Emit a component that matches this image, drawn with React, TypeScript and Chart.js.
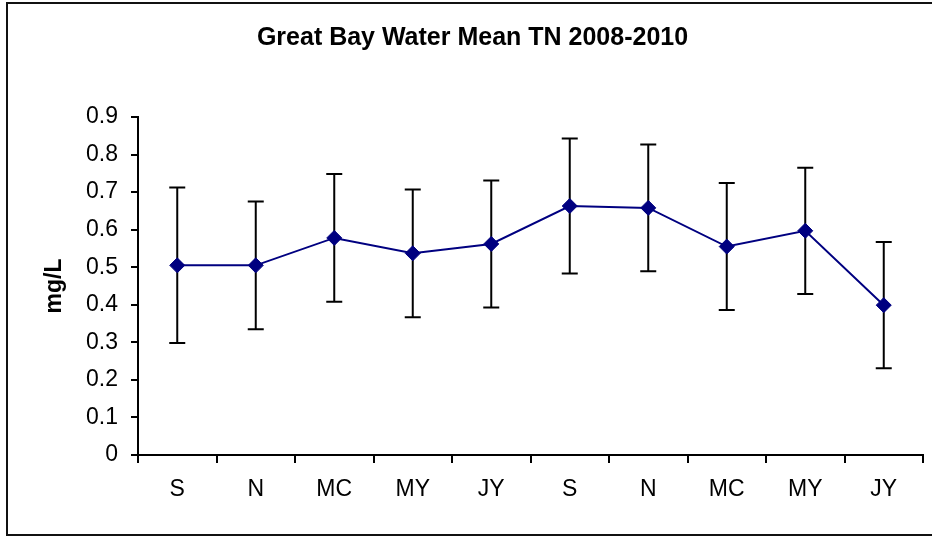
import React, { useEffect, useRef } from "react";
import { Chart, registerables } from "chart.js";

Chart.register(...registerables);

const categories = ["S", "N", "MC", "MY", "JY", "S", "N", "MC", "MY", "JY"];
const meanTN = [0.505, 0.505, 0.578, 0.537, 0.562, 0.663, 0.658, 0.555, 0.597, 0.399];
const errTN = [0.207, 0.17, 0.17, 0.17, 0.169, 0.18, 0.169, 0.169, 0.168, 0.168];
const yTicks = [0, 0.1, 0.2, 0.3, 0.4, 0.5, 0.6, 0.7, 0.8, 0.9];

const FONT = "'Liberation Sans', Arial, sans-serif";

const errorBarPlugin = {
  id: "errorBars",
  beforeDatasetsDraw(chart: any) {
    const { ctx } = chart;
    const xs = chart.scales.x;
    const ys = chart.scales.y;
    ctx.save();
    ctx.strokeStyle = "#000";
    ctx.lineWidth = 2;
    meanTN.forEach((m, i) => {
      const x = xs.getPixelForValue(i);
      const yTop = ys.getPixelForValue(m + errTN[i]);
      const yBot = ys.getPixelForValue(m - errTN[i]);
      const cap = 8;
      ctx.beginPath();
      ctx.moveTo(x, yTop);
      ctx.lineTo(x, yBot);
      ctx.moveTo(x - cap, yTop);
      ctx.lineTo(x + cap, yTop);
      ctx.moveTo(x - cap, yBot);
      ctx.lineTo(x + cap, yBot);
      ctx.stroke();
    });
    ctx.restore();
  },
};

const borderPlugin = {
  id: "outerBorder",
  beforeDraw(chart: any) {
    const { ctx } = chart;
    ctx.save();
    ctx.fillStyle = "#fff";
    ctx.fillRect(0, 0, chart.width, chart.height);
    ctx.strokeStyle = "#111";
    ctx.lineWidth = 2;
    ctx.strokeRect(7, 3, 940, 532);
    ctx.restore();
  },
};

export default function App() {
  const ref = useRef<HTMLCanvasElement | null>(null);
  useEffect(() => {
    document.body.style.margin = "0";
    if (!ref.current) return;
    const chart = new Chart(ref.current, {
      type: "line",
      data: {
        labels: categories,
        datasets: [
          {
            label: "Mean TN",
            data: meanTN,
            borderColor: "#000080",
            backgroundColor: "#000080",
            borderWidth: 2,
            pointStyle: "rectRot",
            pointRadius: 7.5,
            pointBorderWidth: 1,
            pointBackgroundColor: "#000080",
            pointBorderColor: "#000080",
            tension: 0,
          },
        ],
      },
      options: {
        responsive: false,
        animation: false,
        devicePixelRatio: 1,
        layout: { padding: { left: 22, right: 9, top: 0, bottom: 0 } },
        plugins: {
          legend: { display: false },
          tooltip: { enabled: false },
          title: {
            display: true,
            text: "Great Bay Water Mean TN 2008-2010",
            color: "#000",
            font: { family: FONT, size: 25, weight: "bold" },
            padding: { top: 23, bottom: 64 },
          },
        },
        scales: {
          x: {
            type: "category",
            offset: true,
            grid: {
              offset: true,
              drawOnChartArea: false,
              drawTicks: true,
              tickLength: 8,
              color: "#000",
              lineWidth: 2,
            },
            border: { display: true, color: "#000", width: 2 },
            ticks: {
              color: "#000",
              font: { family: FONT, size: 23 },
              padding: 13,
              maxRotation: 0,
              autoSkip: false,
            },
            afterFit: (s: any) => {
              s.height = 82;
            },
          },
          y: {
            min: 0,
            max: 0.9,
            afterBuildTicks: (s: any) => {
              s.ticks = yTicks.map((v) => ({ value: v }));
            },
            grid: {
              drawOnChartArea: false,
              drawTicks: true,
              tickLength: 7,
              color: "#000",
              lineWidth: 2,
            },
            border: { display: true, color: "#000", width: 2 },
            ticks: {
              color: "#000",
              font: { family: FONT, size: 23 },
              padding: 13,
              callback: (v: any) => (Number(v) === 0 ? "0" : Number(v).toFixed(1)),
            },
            title: {
              display: true,
              text: "mg/L",
              color: "#000",
              font: { family: FONT, size: 23, weight: "bold" },
              padding: { top: 19, bottom: 0 },
            },
            afterFit: (s: any) => {
              s.width = 116;
            },
          },
        },
      },
      plugins: [borderPlugin, errorBarPlugin],
    });
    return () => chart.destroy();
  }, []);
  return (
    <div style={{ width: 932, height: 537, overflow: "hidden" }}>
      <canvas ref={ref} width={932} height={537} style={{ display: "block" }} />
    </div>
  );
}
